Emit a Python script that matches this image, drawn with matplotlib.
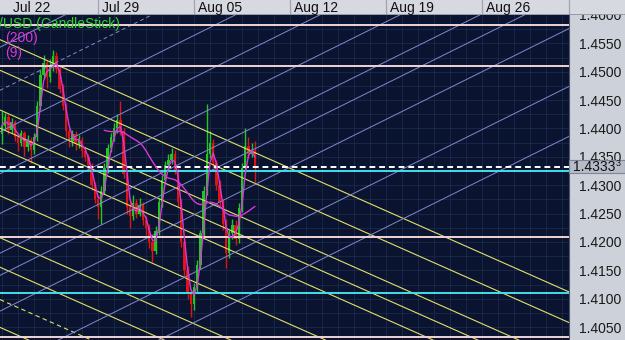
"""
Candlestick chart with fan / channel lines (dark trading-terminal look)
"""

import matplotlib

matplotlib.use("Agg")
import matplotlib.pyplot as plt
import matplotlib.transforms as mtransforms
from matplotlib.patches import Rectangle
import numpy as np
import pandas as pd

plt.rcParams["font.family"] = ["Liberation Sans", "DejaVu Sans"]

# 4h bars, 30 bars per trading week, bar 0 = Jul 22
week_labels = ["Jul 22", "Jul 29", "Aug 05", "Aug 12", "Aug 19", "Aug 26"]
bars_per_week = 30

open_ = [1.4390, 1.4405, 1.4420, 1.4398, 1.4412, 1.4385, 1.4375, 1.4392, 1.4368, 1.4380,
         1.4362, 1.4385, 1.4440, 1.4495, 1.4515, 1.4490, 1.4510, 1.4528, 1.4505, 1.4470,
         1.4440, 1.4395, 1.4378, 1.4390, 1.4372, 1.4380, 1.4360, 1.4350, 1.4335, 1.4300,
         1.4275, 1.4262, 1.4290, 1.4330, 1.4365, 1.4385, 1.4400, 1.4415, 1.4395, 1.4320,
         1.4262, 1.4245, 1.4268, 1.4250, 1.4265, 1.4238, 1.4225, 1.4200, 1.4185, 1.4220,
         1.4270, 1.4310, 1.4335, 1.4345, 1.4355, 1.4325, 1.4270, 1.4200, 1.4150, 1.4110,
         1.4090, 1.4120, 1.4160, 1.4215, 1.4290, 1.4355, 1.4375, 1.4340, 1.4300, 1.4270,
         1.4232, 1.4180, 1.4215, 1.4230, 1.4205, 1.4260, 1.4330, 1.4370, 1.4355, 1.4362]
high = [1.4430, 1.4428, 1.4425, 1.4418, 1.4415, 1.4392, 1.4398, 1.4396, 1.4388, 1.4385,
        1.4392, 1.4448, 1.4505, 1.4530, 1.4520, 1.4522, 1.4538, 1.4535, 1.4510, 1.4478,
        1.4445, 1.4400, 1.4398, 1.4395, 1.4388, 1.4385, 1.4368, 1.4355, 1.4340, 1.4305,
        1.4282, 1.4298, 1.4340, 1.4372, 1.4392, 1.4410, 1.4425, 1.4448, 1.4400, 1.4325,
        1.4275, 1.4282, 1.4275, 1.4278, 1.4270, 1.4245, 1.4232, 1.4205, 1.4228, 1.4278,
        1.4318, 1.4342, 1.4355, 1.4366, 1.4362, 1.4330, 1.4275, 1.4205, 1.4158, 1.4118,
        1.4128, 1.4168, 1.4222, 1.4298, 1.4443, 1.4395, 1.4382, 1.4345, 1.4310, 1.4275,
        1.4240, 1.4222, 1.4240, 1.4238, 1.4268, 1.4340, 1.4400, 1.4385, 1.4375, 1.4378]
low = [1.4372, 1.4398, 1.4390, 1.4392, 1.4378, 1.4360, 1.4370, 1.4352, 1.4360, 1.4340,
       1.4355, 1.4378, 1.4432, 1.4488, 1.4472, 1.4482, 1.4502, 1.4498, 1.4462, 1.4432,
       1.4385, 1.4368, 1.4370, 1.4362, 1.4365, 1.4350, 1.4342, 1.4325, 1.4292, 1.4268,
       1.4240, 1.4232, 1.4285, 1.4322, 1.4358, 1.4378, 1.4392, 1.4388, 1.4312, 1.4250,
       1.4225, 1.4238, 1.4242, 1.4245, 1.4230, 1.4212, 1.4190, 1.4165, 1.4178, 1.4212,
       1.4262, 1.4305, 1.4328, 1.4338, 1.4320, 1.4262, 1.4192, 1.4138, 1.4100, 1.4068,
       1.4080, 1.4112, 1.4152, 1.4208, 1.4282, 1.4348, 1.4332, 1.4292, 1.4262, 1.4222,
       1.4155, 1.4172, 1.4205, 1.4195, 1.4198, 1.4252, 1.4322, 1.4348, 1.4350, 1.4305]
close = [1.4405, 1.4420, 1.4398, 1.4412, 1.4385, 1.4375, 1.4392, 1.4368, 1.4380, 1.4362,
         1.4385, 1.4440, 1.4495, 1.4515, 1.4490, 1.4510, 1.4528, 1.4505, 1.4470, 1.4440,
         1.4395, 1.4378, 1.4390, 1.4372, 1.4380, 1.4360, 1.4350, 1.4335, 1.4300, 1.4275,
         1.4262, 1.4290, 1.4330, 1.4365, 1.4385, 1.4400, 1.4415, 1.4395, 1.4320, 1.4262,
         1.4245, 1.4268, 1.4250, 1.4265, 1.4238, 1.4225, 1.4200, 1.4185, 1.4220, 1.4270,
         1.4310, 1.4335, 1.4345, 1.4355, 1.4325, 1.4270, 1.4200, 1.4150, 1.4110, 1.4090,
         1.4120, 1.4160, 1.4215, 1.4290, 1.4355, 1.4375, 1.4340, 1.4300, 1.4270, 1.4232,
         1.4180, 1.4215, 1.4230, 1.4205, 1.4260, 1.4330, 1.4370, 1.4355, 1.4362, 1.4333]

last_price = 1.4333
pink_levels = [1.4582, 1.4511, 1.4208, 1.4033]
cyan_levels = [1.4325, 1.4111]

# descending channel lines: price at bar 0, slope per bar
yellow_start = [1.4555, 1.4501, 1.4431, 1.4399, 1.4364, 1.4280, 1.4206, 1.4154, 1.4097, 1.4048]
yellow_dashed = [False, False, False, False, False, False, False, False, True, False]
yellow_slope = -0.00025
# ascending fan lines
lav_start = [1.4545, 1.4469, 1.4396, 1.4322, 1.4252, 1.4182, 1.4143, 1.4080, 1.3978, 1.3890]
lav_dashed = [False, True, False, False, False, False, False, False, False, False]
lav_slope = 0.00028

# chart geometry (pixels)
W, H = 625, 340
plot_w, top_h = 569, 15
px_per_bar = 3.2
x0 = -2 / px_per_bar
x1 = x0 + plot_w / px_per_bar
y_lo, y_hi = 1.40273, 1.45974
px_price = (y_hi - y_lo) / (H - top_h)

bg = "#0a1430"
panel = "#cdd1da"

fig = plt.figure(figsize=(W / 100, H / 100), dpi=100, facecolor=panel)
ax = fig.add_axes([0, 0, plot_w / W, (H - top_h) / H])
ax.set_facecolor(bg)
ax.set_xlim(x0, x1)
ax.set_ylim(y_lo, y_hi)

# fine grid
for gx in np.arange(0, x1, 5):
    ax.axvline(gx, color="#1b2a4a", lw=0.6, zorder=0)
for gy in np.arange(1.4025, 1.4600, 0.0025):
    ax.axhline(gy, color="#1b2a4a", lw=0.6, zorder=0)

# candles
bars = np.arange(len(close))
o = np.array(open_)
c = np.array(close)
up = c >= o
colors = np.where(up, "#22c822", "#e01414")
ax.vlines(bars, low, high, colors=colors, lw=1.0, zorder=2)
ax.bar(bars, np.maximum(np.abs(c - o), 0.00005), bottom=np.minimum(o, c), width=0.75,
       color=colors, edgecolor="none", zorder=2)

# moving averages
ma_fast = pd.Series(close).rolling(3, min_periods=1).mean()
ma_slow = pd.Series(close).rolling(33).mean()
ax.plot(bars, ma_fast, color="#d838d8", lw=1.0, zorder=4)
ax.plot(bars, ma_slow, color="#d838d8", lw=1.0, zorder=4)

# channel / fan lines
for p, d in zip(yellow_start, yellow_dashed):
    ax.axline((0, p), slope=yellow_slope, color="#e0e06a", lw=0.8,
              ls=(0, (4, 3)) if d else "-", zorder=3)
for p, d in zip(lav_start, lav_dashed):
    ax.axline((0, p), slope=lav_slope, color="#8587cc", lw=0.7,
              ls=(0, (4, 3)) if d else "-", zorder=3)

for lvl in pink_levels:
    ax.axhline(lvl, color="#f2d4d4", lw=1.4, zorder=3)
for lvl in cyan_levels:
    ax.axhline(lvl, color="#40e0ea", lw=1.4, zorder=3)
ax.axhline(last_price, color="white", lw=1.4, ls=(0, (3, 2)), zorder=3)

# right price scale
ax.yaxis.tick_right()
ax.set_yticks(np.arange(1.4050, 1.4601, 0.005))
ax.yaxis.set_major_formatter(matplotlib.ticker.FormatStrFormatter("%.4f"))
ax.tick_params(axis="y", length=0, pad=7, labelsize=10, labelcolor="#1a1a1a")
ax.set_xticks([])
for s in ax.spines.values():
    s.set_visible(False)
ax.spines["right"].set_visible(True)
ax.spines["right"].set_color("#4a5468")

# legend texts
ax.text(-1 / plot_w, 1 - 9 / 325, "/USD (CandleStick)", transform=ax.transAxes,
        color="#2ed42e", fontsize=10, va="center", ha="left", zorder=5)
ax.text(5 / plot_w, 1 - 23 / 325, "(200)", transform=ax.transAxes,
        color="#d838d8", fontsize=10, va="center", ha="left", zorder=5)
ax.text(5 / plot_w, 1 - 38 / 325, "(9)", transform=ax.transAxes,
        color="#d838d8", fontsize=10, va="center", ha="left", zorder=5)

# last price box on the scale
trans = mtransforms.blended_transform_factory(ax.transAxes, ax.transData)
ax.add_patch(Rectangle((1, last_price - 7 * px_price), (W - plot_w) / plot_w, 14 * px_price,
                       transform=trans, clip_on=False, fc="#b6bcc8", ec="#7c8496",
                       lw=0.8, zorder=6))
ax.text(1 + 4 / plot_w, last_price, "1.4333", transform=trans, clip_on=False,
        ha="left", va="center", fontsize=10, color="#101010", zorder=7)
ax.text(1 + 47 / plot_w, last_price + 3 * px_price, "3", transform=trans, clip_on=False,
        ha="left", va="center", fontsize=6.5, color="#101010", zorder=7)

# top date bar
top = fig.add_axes([0, (H - top_h) / H, 1, top_h / H])
top.set_facecolor("#d6d9e0")
top.set_xlim(x0, x0 + W / px_per_bar)
top.set_ylim(0, 1)
top.set_xticks([])
top.set_yticks([])
for s in top.spines.values():
    s.set_visible(False)
for i, lab in enumerate(week_labels):
    pos = i * bars_per_week
    if i == 0:
        top.text(pos + 11 / px_per_bar, 0.45, lab, ha="left", va="center", fontsize=10,
                 color="#101010")
        continue
    top.axvline(pos, color="#a0a5ae", lw=0.9)
    top.text(pos + 4 / px_per_bar, 0.45, lab, ha="left", va="center", fontsize=10,
             color="#101010")
top.axvline(x1, color="#a0a5ae", lw=0.9)
top.axhline(0, color="#8a90a0", lw=1.2)

fig.savefig("out.png", dpi=100, facecolor=panel)
